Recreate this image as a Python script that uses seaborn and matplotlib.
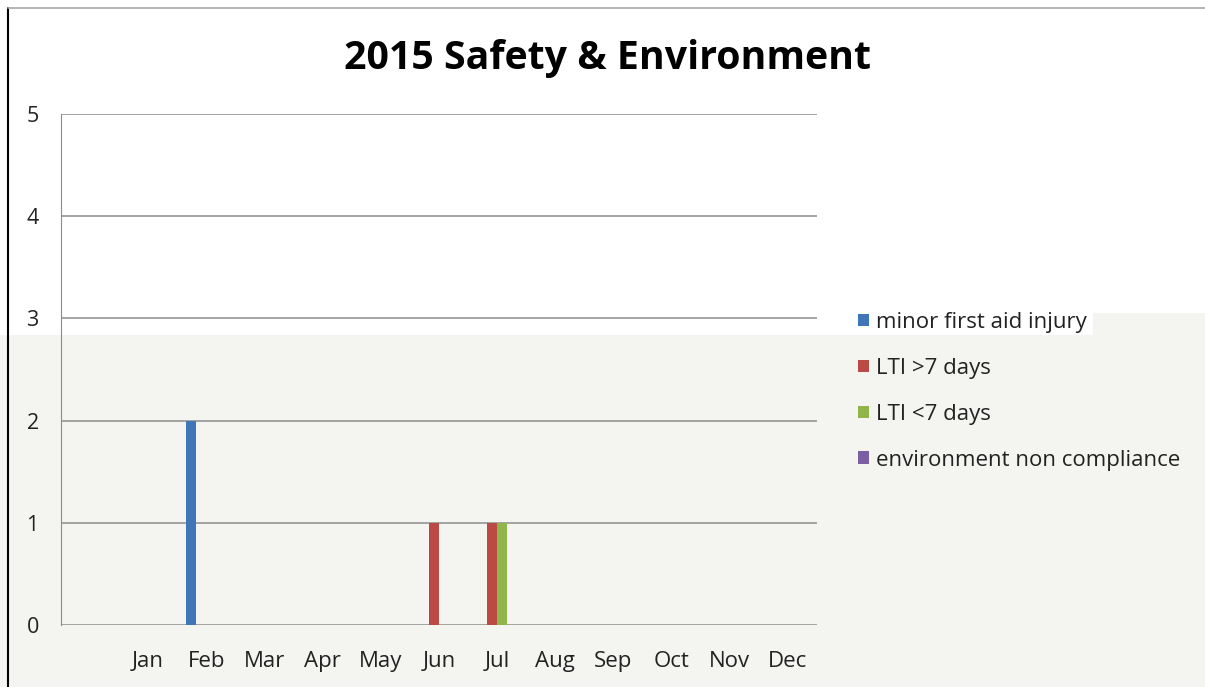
import pandas as pd
import matplotlib.pyplot as plt
import seaborn as sns
from matplotlib.patches import Rectangle
from matplotlib.lines import Line2D

months = ["Jan", "Feb", "Mar", "Apr", "May", "Jun", "Jul", "Aug", "Sep", "Oct", "Nov", "Dec"]
series = ["minor first aid injury", "LTI >7 days", "LTI <7 days", "environment non compliance"]
first_aid = [0, 2, 0, 0, 0, 0, 0, 0, 0, 0, 0, 0]
lti_over7 = [0, 0, 0, 0, 0, 1, 1, 0, 0, 0, 0, 0]
lti_under7 = [0, 0, 0, 0, 0, 0, 1, 0, 0, 0, 0, 0]
env_non_compliance = [0, 0, 0, 0, 0, 0, 0, 0, 0, 0, 0, 0]
colors = ["#3f76b8", "#bb4a45", "#90b54a", "#7b5fa2"]

rows = []
for name, vals in zip(series, [first_aid, lti_over7, lti_under7, env_non_compliance]):
    for m, v in zip(months, vals):
        rows.append({"month": m, "count": v, "type": name})
df = pd.DataFrame(rows)

sns.set_style("white")
plt.rcParams["font.family"] = ["Open Sans", "DejaVu Sans"]

fig = plt.figure(figsize=(12.05, 6.87), dpi=100, facecolor="white")
# screenshot background tint
fig.patches.append(Rectangle((0, 0), 1, 1 - 335 / 687, transform=fig.transFigure,
                             color="#f4f5f1", zorder=-10))
fig.patches.append(Rectangle((1093 / 1205, 0), 1, 1 - 313 / 687, transform=fig.transFigure,
                             color="#f4f5f1", zorder=-10))
fig.lines.append(Line2D([8 / 1205, 8 / 1205], [0, 1 - 8 / 687], transform=fig.transFigure,
                        color="black", lw=1.5))
fig.lines.append(Line2D([8 / 1205, 1], [1 - 8 / 687, 1 - 8 / 687], transform=fig.transFigure,
                        color="#a8a8a8", lw=1.2))

ax = fig.add_axes([61 / 1205, 1 - 625 / 687, (817 - 61) / 1205, (625 - 114) / 687])
ax.set_facecolor("none")

sns.barplot(data=df, x="month", y="count", hue="type", palette=colors,
            width=0.69, dodge=True, ax=ax, saturation=1, linewidth=0, zorder=3)

ax.set_xlim(-1.5, 11.5)
ax.set_ylim(0, 5)
ax.set_yticks(range(6))
ax.yaxis.grid(True, color="#8c8c8c", lw=1.1)
ax.set_axisbelow(True)
for s in ["top", "right", "bottom"]:
    ax.spines[s].set_visible(False)
ax.spines["left"].set_color("#8c8c8c")
ax.set_xlabel("")
ax.set_ylabel("")
ax.tick_params(axis="y", length=0, pad=16, labelsize=15.5, labelcolor="#222222")
ax.tick_params(axis="x", length=0, pad=18.5, labelsize=16, labelcolor="#222222")

handles, labels = ax.get_legend_handles_labels()
ax.get_legend().remove()
fig.legend(handles, labels, loc="upper left", bbox_to_anchor=(838 / 1205, 1 - 292 / 687),
           frameon=False, fontsize=16, handlelength=0.5, handleheight=0.5,
           handletextpad=0.3, labelspacing=1.12, labelcolor="#222222")

fig.text(608 / 1205, 1 - 58 / 687, "2015 Safety & Environment", ha="center", va="center",
         fontsize=28.3, fontweight="bold", color="black")

plt.savefig("out.png", dpi=100)
